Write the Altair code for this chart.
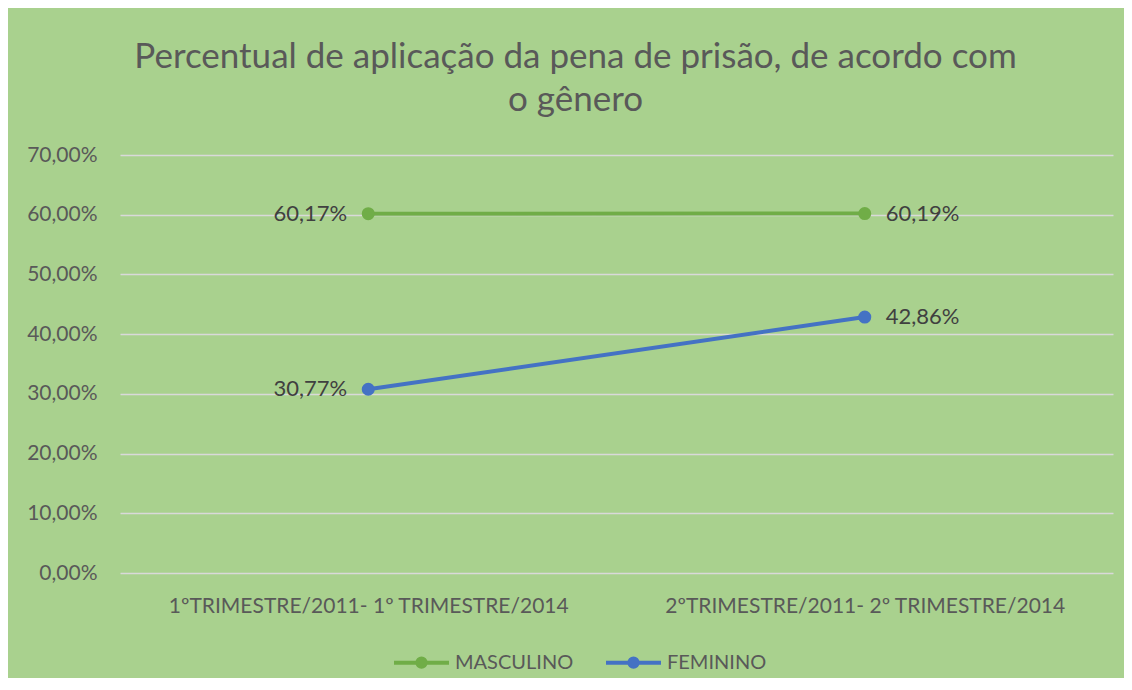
import altair as alt
import pandas as pd

categories = ["1ºTRIMESTRE/2011- 1º TRIMESTRE/2014", "2ºTRIMESTRE/2011- 2º TRIMESTRE/2014"]
series_names = ["MASCULINO", "FEMININO"]
masculino = [60.17, 60.19]
feminino = [30.77, 42.86]
y_ticks = [0, 10, 20, 30, 40, 50, 60, 70]
colors = ["#70AD47", "#4472C4"]

rows = []
for name, vals in zip(series_names, [masculino, feminino]):
    for i, (c, v) in enumerate(zip(categories, vals)):
        rows.append({"cat": c, "serie": name, "v": v, "idx": i})
df = pd.DataFrame(rows)

FONT = "Lato"
TXT = "#595959"

legend_path = ("M-1,0L1,0 "
               "M0.07,0A0.07,0.07,0,1,1,-0.07,0A0.07,0.07,0,1,1,0.07,0 "
               "M0.15,0A0.15,0.15,0,1,1,-0.15,0A0.15,0.15,0,1,1,0.15,0")

x_enc = alt.X("cat:N", sort=categories,
              scale=alt.Scale(type="point", padding=0.5),
              axis=alt.Axis(title=None, labelAngle=0, grid=False, labelPadding=22,
                            labelLimit=0, labelFontSize=21, labelColor=TXT, labelFont=FONT))
y_enc = alt.Y("v:Q", scale=alt.Scale(domain=[0, 70]),
              axis=alt.Axis(title=None, values=y_ticks, labelPadding=23,
                            labelFontSize=21, labelColor=TXT, labelFont=FONT,
                            labelExpr="replace(format(datum.value, '.2f'), '.', ',') + '%'"))
color_enc = alt.Color("serie:N", sort=series_names,
                      scale=alt.Scale(domain=series_names, range=colors),
                      legend=alt.Legend(title=None, orient="none", direction="horizontal",
                                        legendX=272, legendY=478,
                                        symbolType=legend_path, symbolSize=3025,
                                        symbolStrokeWidth=4, labelFontSize=20,
                                        labelColor=TXT, labelFont=FONT, labelOffset=4,
                                        columnPadding=24))

base = alt.Chart(df)

lines = base.mark_line(strokeWidth=4, point=alt.OverlayMarkDef(filled=True, size=170, opacity=1)).encode(
    x=x_enc, y=y_enc, color=color_enc)

lab_expr = "replace(format(datum.v, '.2f'), '.', ',') + '%'"
text_left = base.transform_filter("datum.idx == 0").transform_calculate(lab=lab_expr).mark_text(
    align="right", baseline="middle", dx=-21, fontSize=22, font=FONT, color="#404040").encode(
    x=alt.X("cat:N", sort=categories), y="v:Q", text="lab:N")
text_right = base.transform_filter("datum.idx == 1").transform_calculate(lab=lab_expr).mark_text(
    align="left", baseline="middle", dx=21, fontSize=22, font=FONT, color="#404040").encode(
    x=alt.X("cat:N", sort=categories), y="v:Q", text="lab:N")

chart = alt.layer(lines, text_left, text_right).properties(
    width=993, height=418,
    title=alt.TitleParams(
        text=["Percentual de aplicação da pena de prisão, de acordo com", "o gênero"],
        anchor="middle", dx=-41, fontSize=35, font=FONT, fontWeight="normal",
        color=TXT, lineHeight=43, offset=26),
    autosize=alt.AutoSizeParams(type="none"),
    padding={"left": 112, "top": 147, "right": 11, "bottom": 105},
).configure(background="#A9D18E").configure_view(stroke=None).configure_axis(
    domain=False, ticks=False, gridColor="#D9D9D9", gridWidth=1.5)

chart.save("out.html", embed_options={"renderer": "svg", "actions": False})
